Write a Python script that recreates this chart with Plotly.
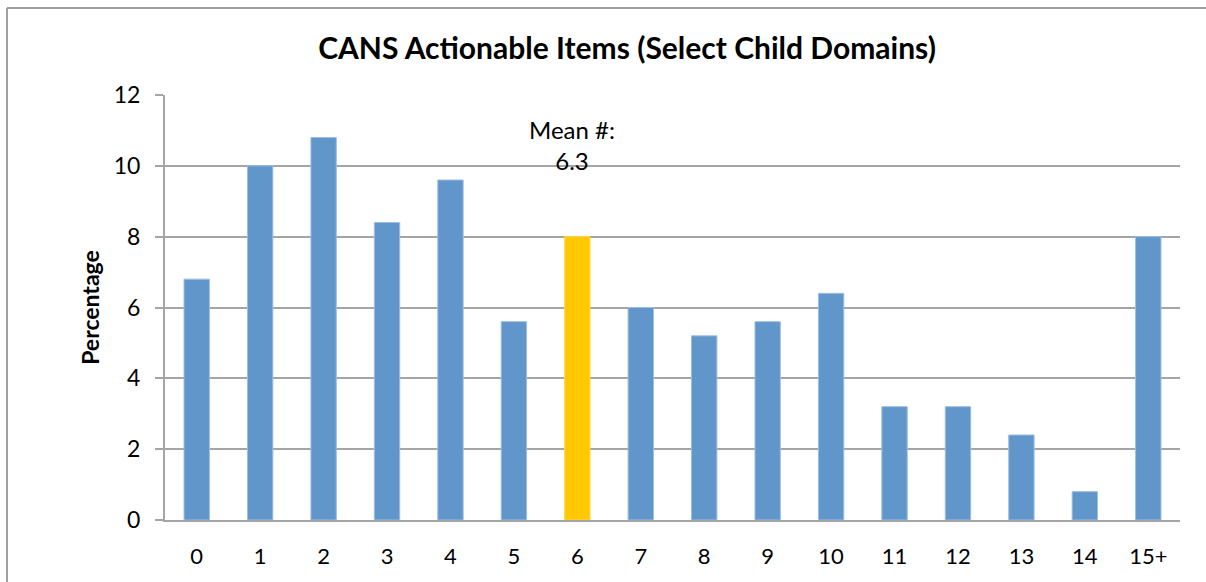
import plotly.graph_objects as go

categories = ["0", "1", "2", "3", "4", "5", "6", "7", "8", "9", "10", "11", "12", "13", "14", "15+"]
percentages = [6.8, 10.0, 10.8, 8.4, 9.6, 5.6, 8.0, 6.0, 5.2, 5.6, 6.4, 3.2, 3.2, 2.4, 0.8, 8.0]
highlight_category = "6"
mean_label = "Mean #:<br>6.3"
y_ticks = [0, 2, 4, 6, 8, 10, 12]

blue = "#6096CA"
yellow = "#FFC800"
colors = [yellow if c == highlight_category else blue for c in categories]
edge = ["#FFD84A" if c == highlight_category else "#9DBDE3" for c in categories]

grid = "#A5A5A5"
W, H = 1206, 582
L, R, T, B = 165, 26, 95, 62
pw, ph = W - L - R, H - T - B

fig = go.Figure(go.Bar(
    x=categories, y=percentages,
    marker=dict(color=colors, line=dict(color=edge, width=1)),
    width=0.4,
))

def px_x(x):
    return (x - L) / pw

def px_y(y):
    return (H - B - y) / ph

fig.update_layout(
    width=W, height=H,
    margin=dict(l=L, r=R, t=T, b=B),
    paper_bgcolor="white", plot_bgcolor="white",
    font=dict(family="Lato, 'Open Sans', sans-serif", color="#000000", size=22),
    showlegend=False,
    title=dict(text="<b>CANS Actionable Items (Select Child Domains)</b>",
               x=627 / W, xanchor="center", y=1 - 48 / H, yanchor="middle",
               font=dict(size=30, family="Lato, sans-serif", color="#000")),
    bargap=0.6,
    xaxis=dict(type="category", showgrid=False, showline=True, linecolor=grid, linewidth=2,
               ticks="", tickfont=dict(size=22), ticklabelstandoff=16),
    yaxis=dict(range=[0, 12], tickvals=y_ticks, showgrid=True, gridcolor=grid, gridwidth=2,
               showline=True, linecolor=grid, linewidth=2, ticks="outside", ticklen=8,
               tickcolor=grid, tickwidth=2, zeroline=False, tickfont=dict(size=23),
               ticklabelstandoff=10,
               title=dict(text="<b>Percentage</b>", font=dict(size=23), standoff=8)),
    shapes=[dict(type="line", xref="paper", yref="paper",
                 x0=px_x(7), x1=px_x(1215), y0=px_y(8), y1=px_y(8),
                 line=dict(color="#A0A0A0", width=2), layer="above"),
            dict(type="line", xref="paper", yref="paper",
                 x0=px_x(7), x1=px_x(7), y0=px_y(600), y1=px_y(8),
                 line=dict(color="#A0A0A0", width=2), layer="above")],
    annotations=[dict(x=highlight_category, y=10.6, xref="x", yref="y", text=mean_label,
                      showarrow=False, xshift=-5, font=dict(size=24), align="center")],
)

fig.write_html("out.html", config={"displayModeBar": False},
               post_script="document.body.style.margin='0';document.body.style.overflow='hidden';")
